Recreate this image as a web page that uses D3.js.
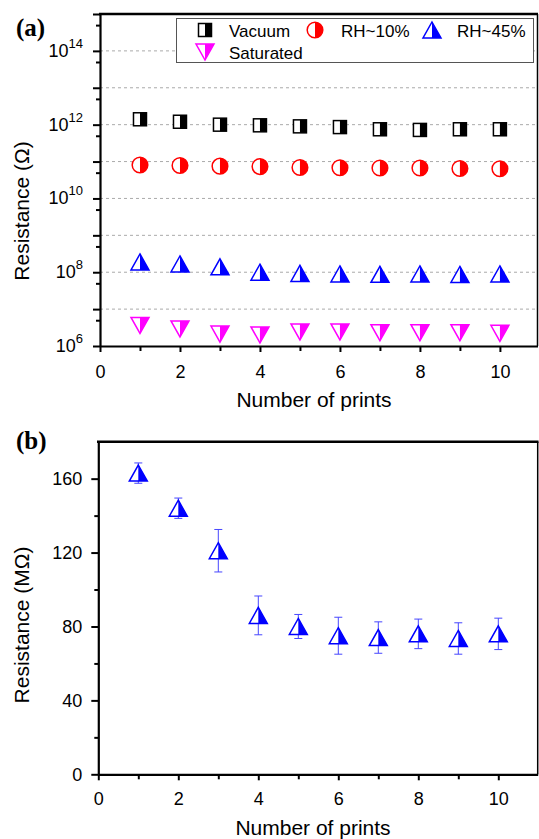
<!DOCTYPE html>
<html>
<head>
<meta charset="utf-8">
<script src="https://cdn.jsdelivr.net/npm/d3@7"></script>
<style>
  body { margin: 0; background: #fff; }
  text { font-family: "Liberation Sans", Arial, sans-serif; fill: #000; }
</style>
</head>
<body>
<svg id="chart" width="539" height="839"></svg>
<script>
// ---- data ----
const prints = [1, 2, 3, 4, 5, 6, 7, 8, 9, 10];
const vacuum    = [1.4e12, 1.2e12, 1.0e12, 0.96e12, 0.9e12, 0.86e12, 0.75e12, 0.72e12, 0.75e12, 0.75e12];
const rh10      = [8.1e10, 7.8e10, 7.5e10, 7.3e10, 6.9e10, 6.8e10, 6.7e10, 6.7e10, 6.5e10, 6.4e10];
const rh45      = [1.9e8, 1.68e8, 1.4e8, 1.0e8, 0.93e8, 0.9e8, 0.88e8, 0.9e8, 0.87e8, 0.9e8];
const saturated = [3.6e6, 2.9e6, 2.1e6, 2.0e6, 2.4e6, 2.4e6, 2.3e6, 2.3e6, 2.3e6, 2.2e6];

const rhMean = [163, 144, 121, 86, 80, 75, 74, 76, 73.5, 76];
const rhErr  = [5.5, 5.5, 11.5, 10.5, 6.5, 10, 8.5, 8, 8.5, 8.5];

const xMajor = [0, 2, 4, 6, 8, 10];
const xMinor = [1, 3, 5, 7, 9];
const logMajorLabels = [6, 8, 10, 12, 14];
const linMajor = [0, 40, 80, 120, 160];
const linMinor = [20, 60, 100, 140];

const svg = d3.select("#chart");

// ---- marker shapes (half filled) ----
function drawMarker(g, type, color) {
  if (type === "square") {
    const s = 13;
    g.append("rect").attr("x", -s/2).attr("y", -s/2).attr("width", s).attr("height", s)
      .attr("fill", "#fff").attr("stroke", color).attr("stroke-width", 1.5);
    g.append("rect").attr("x", 0).attr("y", -s/2).attr("width", s/2).attr("height", s)
      .attr("fill", color);
  } else if (type === "circle") {
    const r = 7.8;
    g.append("circle").attr("r", r).attr("fill", "#fff").attr("stroke", color).attr("stroke-width", 1.5);
    g.append("path").attr("d", `M0,${-r}A${r},${r} 0 0 1 0,${r}Z`).attr("fill", color);
  } else if (type === "up") {
    const w = 18, h = 16;
    g.append("path").attr("d", `M0,${-h/2}L${w/2},${h/2}L${-w/2},${h/2}Z`)
      .attr("fill", "#fff").attr("stroke", color).attr("stroke-width", 1.5).attr("stroke-linejoin", "miter");
    g.append("path").attr("d", `M0,${-h/2}L${w/2},${h/2}L0,${h/2}Z`).attr("fill", color);
  } else if (type === "down") {
    const w = 18, h = 16;
    g.append("path").attr("d", `M${-w/2},${-h/2}L${w/2},${-h/2}L0,${h/2}Z`)
      .attr("fill", "#fff").attr("stroke", color).attr("stroke-width", 1.5);
    g.append("path").attr("d", `M0,${-h/2}L${w/2},${-h/2}L0,${h/2}Z`).attr("fill", color);
  }
}

function styleAxis(g) {
  g.select(".domain").attr("stroke", "#000").attr("stroke-width", 2.2);
  g.selectAll(".tick line").attr("stroke", "#000").attr("stroke-width", 2);
  g.selectAll(".tick text").style("font-size", "18px").style("font-family", "Liberation Sans, Arial, sans-serif");
}

// =========================== panel (a) ===========================
const xa = d3.scaleLinear().domain([0, 10.94]).range([100, 537.5]);
const ya = d3.scaleLog().domain([1e6, 1e15]).range([346, 14]);

const decades = d3.range(6, 16).map(e => Math.pow(10, e));
const fives = d3.range(6, 15).map(e => 5 * Math.pow(10, e));

// dashed grid
svg.append("g").selectAll("line")
  .data(decades.filter(v => v > 1e6 && v < 1e15))
  .join("line")
  .attr("x1", xa(0)).attr("x2", xa.range()[1])
  .attr("y1", d => ya(d)).attr("y2", d => ya(d))
  .attr("stroke", "#aaa").attr("stroke-width", 1).attr("stroke-dasharray", "3,3");

// frame top/right
svg.append("line").attr("x1", 99).attr("x2", 538).attr("y1", ya(1e15)).attr("y2", ya(1e15))
  .attr("stroke", "#000").attr("stroke-width", 2.5);
svg.append("line").attr("x1", xa.range()[1]).attr("x2", xa.range()[1]).attr("y1", 14).attr("y2", 346)
  .attr("stroke", "#000").attr("stroke-width", 1.5);

// y axis
svg.append("g").attr("transform", `translate(${xa(0)},0)`)
  .call(d3.axisLeft(ya).tickValues(decades).tickSize(7).tickSizeOuter(0).tickFormat(""))
  .call(styleAxis);
svg.append("g").attr("transform", `translate(${xa(0)},0)`)
  .call(d3.axisLeft(ya).tickValues(fives).tickSize(4).tickSizeOuter(0).tickFormat(""))
  .call(g => g.select(".domain").remove())
  .call(g => g.selectAll(".tick line").attr("stroke", "#000").attr("stroke-width", 2));

const ylab = svg.append("g").selectAll("text").data(logMajorLabels).join("text")
  .attr("x", 83).attr("y", d => ya(Math.pow(10, d)) + 6)
  .attr("text-anchor", "end").style("font-size", "18px");
ylab.append("tspan").text("10");
ylab.append("tspan").attr("dy", -9).style("font-size", "13px").text(d => d);

// x axis
svg.append("g").attr("transform", `translate(0,${ya(1e6)})`)
  .call(d3.axisBottom(xa).tickValues(xMajor).tickSize(6).tickPadding(13).tickSizeOuter(0).tickFormat(d3.format("d")))
  .call(styleAxis);
svg.append("g").attr("transform", `translate(0,${ya(1e6)})`)
  .call(d3.axisBottom(xa).tickValues(xMinor).tickSize(5).tickSizeOuter(0).tickFormat(""))
  .call(g => g.select(".domain").remove())
  .call(g => g.selectAll(".tick line").attr("stroke", "#000").attr("stroke-width", 2));

svg.append("text").attr("x", 314).attr("y", 407).attr("text-anchor", "middle")
  .style("font-size", "21px").text("Number of prints");
svg.append("text").attr("transform", "translate(29,211) rotate(-90)").attr("text-anchor", "middle")
  .style("font-size", "21px").text("Resistance (Ω)");
svg.append("text").attr("x", 16).attr("y", 36).style("font-family", "Liberation Serif, Times New Roman, serif")
  .style("font-weight", "bold").style("font-size", "25px").text("(a)");

const seriesA = [
  { name: "Vacuum", values: vacuum, type: "square", color: "#000000" },
  { name: "RH~10%", values: rh10, type: "circle", color: "#ff0000" },
  { name: "RH~45%", values: rh45, type: "up", color: "#0000ff" },
  { name: "Saturated", values: saturated, type: "down", color: "#ff00ff" }
];

seriesA.forEach(s => {
  prints.forEach((p, i) => {
    const g = svg.append("g").attr("transform", `translate(${xa(p)},${ya(s.values[i])})`);
    drawMarker(g, s.type, s.color);
  });
});

// legend
const legend = svg.append("g");
legend.append("rect").attr("x", 176.5).attr("y", 18.5).attr("width", 357).attr("height", 44)
  .attr("fill", "#fff").attr("stroke", "#555").attr("stroke-width", 1);
const legendPos = [
  { mx: 205, tx: 229, y: 30 },
  { mx: 315, tx: 341, y: 30 },
  { mx: 432, tx: 457, y: 30 },
  { mx: 205, tx: 229, y: 52 }
];
seriesA.forEach((s, i) => {
  const lp = legendPos[i];
  const g = legend.append("g").attr("transform", `translate(${lp.mx},${lp.y})`);
  drawMarker(g, s.type, s.color);
  legend.append("text").attr("x", lp.tx).attr("y", lp.y + 6.5).style("font-size", "17px").text(s.name);
});

// =========================== panel (b) ===========================
const xb = d3.scaleLinear().domain([0, 10.985]).range([98.3, 537.7]);
const yb = d3.scaleLinear().domain([0, 180]).range([774.3, 441.7]);

svg.append("line").attr("x1", 97).attr("x2", 538.5).attr("y1", yb(180)).attr("y2", yb(180))
  .attr("stroke", "#000").attr("stroke-width", 2.5);
svg.append("line").attr("x1", xb.range()[1]).attr("x2", xb.range()[1]).attr("y1", yb(180)).attr("y2", yb(0))
  .attr("stroke", "#000").attr("stroke-width", 1.5);

svg.append("g").attr("transform", `translate(${xb(0)},0)`)
  .call(d3.axisLeft(yb).tickValues(linMajor).tickSize(7).tickPadding(9).tickSizeOuter(0).tickFormat(d3.format("d")))
  .call(styleAxis);
svg.append("g").attr("transform", `translate(${xb(0)},0)`)
  .call(d3.axisLeft(yb).tickValues(linMinor).tickSize(4).tickSizeOuter(0).tickFormat(""))
  .call(g => g.select(".domain").remove())
  .call(g => g.selectAll(".tick line").attr("stroke", "#000").attr("stroke-width", 2));

svg.append("g").attr("transform", `translate(0,${yb(0)})`)
  .call(d3.axisBottom(xb).tickValues(xMajor).tickSize(6).tickPadding(11.5).tickSizeOuter(0).tickFormat(d3.format("d")))
  .call(styleAxis);
svg.append("g").attr("transform", `translate(0,${yb(0)})`)
  .call(d3.axisBottom(xb).tickValues(xMinor).tickSize(5).tickSizeOuter(0).tickFormat(""))
  .call(g => g.select(".domain").remove())
  .call(g => g.selectAll(".tick line").attr("stroke", "#000").attr("stroke-width", 2));

svg.append("text").attr("x", 313).attr("y", 835).attr("text-anchor", "middle")
  .style("font-size", "21px").text("Number of prints");
svg.append("text").attr("transform", "translate(29,625) rotate(-90)").attr("text-anchor", "middle")
  .style("font-size", "21px").text("Resistance (MΩ)");
svg.append("text").attr("x", 16).attr("y", 449).style("font-family", "Liberation Serif, Times New Roman, serif")
  .style("font-weight", "bold").style("font-size", "25px").text("(b)");

// error bars
const eb = svg.append("g").attr("stroke", "#4646ff").attr("stroke-width", 1);
prints.forEach((p, i) => {
  const x = xb(p), y0 = yb(rhMean[i] - rhErr[i]), y1 = yb(rhMean[i] + rhErr[i]);
  eb.append("line").attr("x1", x).attr("x2", x).attr("y1", y0).attr("y2", y1);
  eb.append("line").attr("x1", x - 4).attr("x2", x + 4).attr("y1", y0).attr("y2", y0);
  eb.append("line").attr("x1", x - 4).attr("x2", x + 4).attr("y1", y1).attr("y2", y1);
});
prints.forEach((p, i) => {
  const g = svg.append("g").attr("transform", `translate(${xb(p)},${yb(rhMean[i])})`);
  drawMarker(g, "up", "#0000ff");
});
</script>
</body>
</html>
